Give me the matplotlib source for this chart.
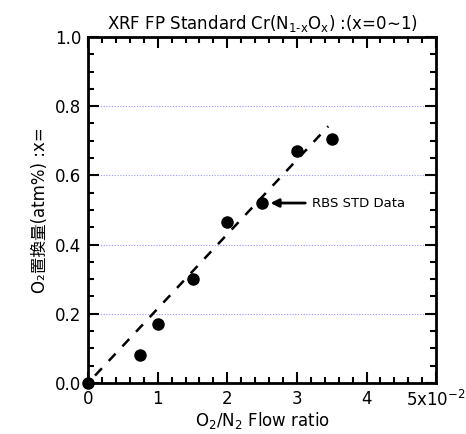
import matplotlib
matplotlib.use("Agg")
import matplotlib.pyplot as plt
from matplotlib.ticker import MultipleLocator

plt.rcParams['font.family'] = ['DejaVu Sans', 'Noto Sans CJK JP']

flow_ratio = [0, 0.75, 1.0, 1.5, 2.0, 2.5, 3.0, 3.5]
o2_sub = [0.0, 0.08, 0.17, 0.30, 0.465, 0.52, 0.67, 0.705]
fit_x = [0.1, 3.45]
fit_slope = 0.215
x_ticks = [0, 1, 2, 3, 4, 5]
x_labels = ['0', '1', '2', '3', '4', r'5x10$^{-2}$']
y_ticks = [0.0, 0.2, 0.4, 0.6, 0.8, 1.0]

fig = plt.figure(figsize=(4.66, 4.34), dpi=100)
ax = fig.add_axes([0.189, 0.1175, 0.747, 0.7975])

for y in y_ticks[1:-1]:
    ax.axhline(y, color='#9999ff', lw=0.8, ls=(0, (1, 1.5)), xmin=0.01, xmax=0.99, zorder=1)

ax.plot(fit_x, [fit_slope * v for v in fit_x], color='black', lw=1.8, ls=(0, (4, 4)), zorder=2)
ax.plot(flow_ratio, o2_sub, 'o', color='black', ms=8, clip_on=False, zorder=3)

ax.annotate('RBS STD Data', xy=(2.5, 0.52), xytext=(3.22, 0.52),
            fontsize=9.5, va='center', ha='left',
            arrowprops=dict(arrowstyle='-|>', color='black', lw=2, mutation_scale=12,
                            shrinkA=3, shrinkB=6))

ax.set_xlim(0, 5)
ax.set_ylim(0, 1)
ax.set_xticks(x_ticks)
ax.set_xticklabels(x_labels)
ax.set_yticks(y_ticks)
ax.set_yticklabels([f'{v:.1f}' for v in y_ticks])
ax.xaxis.set_minor_locator(MultipleLocator(0.2))
ax.yaxis.set_minor_locator(MultipleLocator(0.05))
ax.tick_params(which='both', direction='in', top=True, right=True, width=1.5, labelsize=12, colors='black')
ax.tick_params(which='major', length=8, pad=5)
ax.tick_params(which='minor', length=4)
for s in ax.spines.values():
    s.set_linewidth(2)

ax.set_title(r'XRF FP Standard Cr(N$_{\mathregular{1\text{-}x}}$O$_{\mathregular{x}}$) :(x=0∼1)',
             fontsize=12, pad=6)
ax.set_xlabel(r'O$_2$/N$_2$ Flow ratio', fontsize=12, labelpad=0)
ax.set_ylabel('O₂置換量(atm%) :x=', fontsize=12, labelpad=4)

fig.savefig('out.png', dpi=100)
